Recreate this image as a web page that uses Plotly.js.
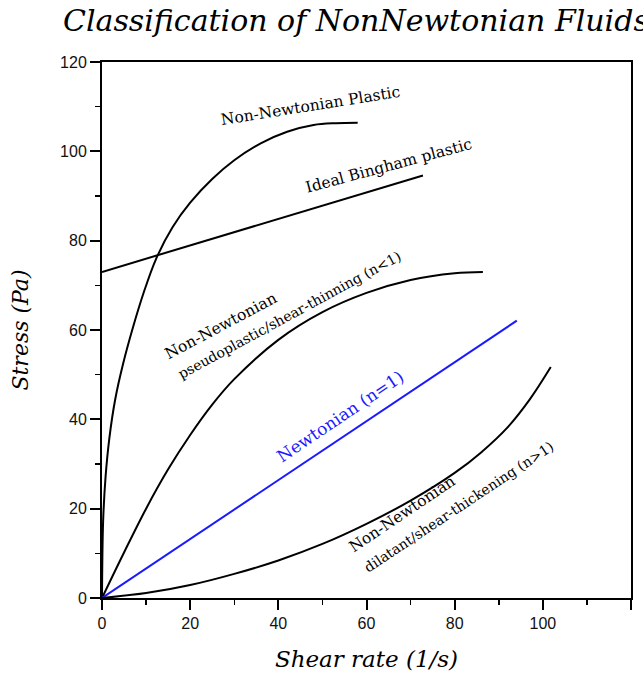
<!DOCTYPE html>
<html>
<head>
<meta charset="utf-8">
<script src="https://cdn.plot.ly/plotly-3.0.1.min.js"></script>
<style>html,body{margin:0;padding:0;background:#fff;}#chart{width:643px;height:677px;}</style>
</head>
<body>
<div id="chart"></div>
<script>
// Data
const plasticX = [0, 0.25, 0.8, 1.7, 3, 4.8, 7, 9.5, 12.3, 16, 20, 25, 30, 36, 42, 48, 53, 58];
const plasticY = [0, 17, 27, 36, 44.5, 52.5, 60.5, 68.5, 76, 83, 88.5, 93.8, 98, 101.8, 104.4, 105.9, 106.3, 106.4];

const binghamX = [0, 72.8];
const binghamY = [73, 94.6];

const pseudoX = [0, 5, 10, 15, 20, 25, 30, 40, 50, 60, 70, 80, 86.4];
const pseudoY = [0, 10.2, 20, 28.8, 36.5, 43.3, 49, 57.8, 64, 68.3, 71.2, 72.7, 73];

const newtonX = [0, 94.1];
const newtonY = [0, 62.1];

const dilatantX = [0, 10, 20, 30, 40, 50, 60, 70, 80, 86, 92, 97, 101.8];
const dilatantY = [0, 1.1, 2.9, 5.4, 8.4, 12.1, 16.6, 21.8, 28, 32.6, 38.2, 44.4, 51.7];

const tickVals = [0, 20, 40, 60, 80, 100, 120];
const tickText = ['0', '20', '40', '60', '80', '100', '120'];

const labelTexts = [
  'Non-Newtonian Plastic',
  'Ideal Bingham plastic',
  'Non-Newtonian',
  'pseudoplastic/shear-thinning (n<1)',
  'Newtonian (n=1)',
  'Non-Newtonian',
  'dilatant/shear-thickening (n>1)'
];

const serif = '"DejaVu Serif", "Liberation Serif", serif';

function curve(x, y, color, shape) {
  return {
    x: x, y: y, type: 'scatter', mode: 'lines',
    line: {color: color, width: 2, shape: shape || 'linear', smoothing: 1},
    hoverinfo: 'skip', showlegend: false
  };
}

const traces = [
  curve(plasticX, plasticY, '#000', 'spline'),
  curve(binghamX, binghamY, '#000'),
  curve(pseudoX, pseudoY, '#000', 'spline'),
  curve(newtonX, newtonY, '#1a1aff'),
  curve(dilatantX, dilatantY, '#000', 'spline')
];

// label placement (positions / styles)
const labelPos = [
  {x: 47.2, y: 110.1, a: -9, s: 15.5, c: '#000'},
  {x: 64.9, y: 96.8, a: -15, s: 15.5, c: '#000'},
  {x: 27.0, y: 60.9, a: -28, s: 15.5, c: '#000'},
  {x: 42.5, y: 63.3, a: -28.5, s: 14, c: '#000'},
  {x: 54.2, y: 40.7, a: -34, s: 17, c: '#1a1aff'},
  {x: 68.1, y: 18.9, a: -34, s: 15.5, c: '#000'},
  {x: 80.9, y: 20.3, a: -33.6, s: 14, c: '#000'}
];

const annotations = labelTexts.map((t, i) => ({
  x: labelPos[i].x, y: labelPos[i].y, xref: 'x', yref: 'y',
  text: t.replace(/</g, '&lt;').replace(/>/g, '&gt;'),
  showarrow: false, textangle: labelPos[i].a,
  xanchor: 'center', yanchor: 'middle',
  font: {family: serif, size: labelPos[i].s, color: labelPos[i].c}
}));

const axisCommon = {
  range: [0, 120], autorange: false,
  showgrid: false, zeroline: false,
  showline: true, linecolor: '#000', linewidth: 2, mirror: true,
  ticks: 'outside', ticklen: 10, tickwidth: 2, tickcolor: '#000',
  tickvals: tickVals, ticktext: tickText,
  tickfont: {family: '"Liberation Sans", Arial, sans-serif', size: 16, color: '#111'},
  minor: {dtick: 10, tick0: 0, ticks: 'outside', ticklen: 5, tickwidth: 1.5, tickcolor: '#000', showgrid: false}
};

const layout = {
  width: 643, height: 677,
  margin: {l: 102, r: 12, t: 62, b: 79},
  paper_bgcolor: '#fff', plot_bgcolor: '#fff',
  title: {
    text: 'Classification of NonNewtonian Fluids',
    x: 63 / 643, xanchor: 'left', xref: 'container',
    y: 1 - 20 / 677, yanchor: 'middle', yref: 'container',
    font: {family: serif, size: 30, color: '#000', style: 'italic'}
  },
  xaxis: Object.assign({}, axisCommon, {
    title: {text: 'Shear rate (1/s)', standoff: 20,
      font: {family: serif, size: 23, color: '#000', style: 'italic'}}
  }),
  yaxis: Object.assign({}, axisCommon, {
    title: {text: 'Stress (Pa)', standoff: 25,
      font: {family: serif, size: 22, color: '#000', style: 'italic'}}
  }),
  annotations: annotations,
  showlegend: false
};

Plotly.newPlot('chart', traces, layout, {displayModeBar: false, staticPlot: true});
</script>
</body>
</html>
